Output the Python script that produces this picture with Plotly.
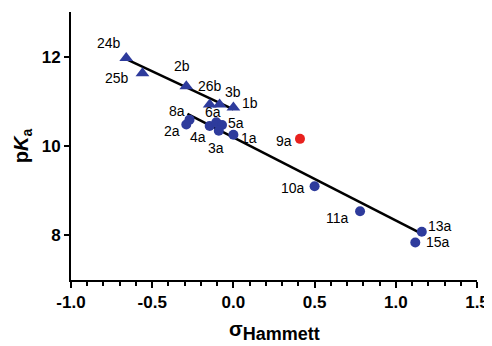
import plotly.graph_objects as go

# series b (triangles)
b_labels = ["24b", "25b", "2b", "26b", "3b", "1b"]
b_sigma = [-0.66, -0.56, -0.29, -0.146, -0.085, 0.0]
b_pka = [11.97, 11.63, 11.34, 10.93, 10.93, 10.86]

# series a (circles)
a_labels = ["8a", "2a", "4a", "6a", "5a", "3a", "1a", "10a", "11a", "13a", "15a"]
a_sigma = [-0.27, -0.29, -0.146, -0.105, -0.07, -0.09, 0.0, 0.50, 0.78, 1.16, 1.12]
a_pka = [10.59, 10.48, 10.45, 10.53, 10.47, 10.34, 10.25, 9.10, 8.54, 8.08, 7.84]

# outlier (red)
r_labels = ["9a"]
r_sigma = [0.41]
r_pka = [10.16]

# regression lines (endpoints)
fit_b_x = [-0.65, 0.0]
fit_b_y = [11.93, 10.82]
fit_a_x = [-0.283, 1.14]
fit_a_y = [10.72, 8.07]

x_ticks = [-1.0, -0.5, 0.0, 0.5, 1.0, 1.5]
y_ticks = [8, 10, 12]

blue = "#2E3B9C"
red = "#E8211E"
FONT = "Liberation Sans, Arial"

# label pixel offsets (style)
offsets = {
    "24b": (-17, 15), "25b": (-25, -5), "2b": (-4, 20), "26b": (0, 18),
    "3b": (13, 12), "1b": (17, 5),
    "8a": (-13, 9), "2a": (-14, -6), "4a": (-12, -11), "6a": (-3, 10),
    "5a": (14, 2), "3a": (-3, -17), "1a": (16, -3),
    "9a": (-16, -2), "10a": (-22, -2), "11a": (-23, -7), "13a": (18, 6), "15a": (23, 0),
}

fig = go.Figure()
fig.add_trace(go.Scatter(x=fit_b_x, y=fit_b_y, mode="lines",
                         line=dict(color="black", width=2.5), showlegend=False))
fig.add_trace(go.Scatter(x=fit_a_x, y=fit_a_y, mode="lines",
                         line=dict(color="black", width=2.5), showlegend=False))
fig.add_trace(go.Scatter(x=b_sigma, y=b_pka, mode="markers",
                         marker=dict(symbol="triangle-up", size=12, color=blue),
                         showlegend=False))
fig.add_trace(go.Scatter(x=a_sigma, y=a_pka, mode="markers",
                         marker=dict(symbol="circle", size=10, color=blue),
                         showlegend=False))
fig.add_trace(go.Scatter(x=r_sigma, y=r_pka, mode="markers",
                         marker=dict(symbol="circle", size=10, color=red),
                         showlegend=False))

for labs, xs, ys in [(b_labels, b_sigma, b_pka), (a_labels, a_sigma, a_pka),
                     (r_labels, r_sigma, r_pka)]:
    for lab, x, y in zip(labs, xs, ys):
        dx, dy = offsets[lab]
        fig.add_annotation(x=x, y=y, text=lab, showarrow=False,
                           xshift=dx, yshift=dy,
                           font=dict(family=FONT, size=14, color="black"))

# axis titles as paper annotations
fig.add_annotation(xref="paper", yref="paper", x=0.50, y=-0.19, yanchor="middle",
                   xanchor="center", showarrow=False,
                   text="<b><span style='font-size:20px'>σ</span><sub><span style='font-size:18px'>Hammett</span></sub></b>",
                   font=dict(family=FONT, size=20, color="black"))
fig.add_annotation(xref="paper", yref="paper", x=-0.12, y=0.5, xanchor="center",
                   yanchor="middle", showarrow=False, textangle=-90,
                   text="<b>p<i>K</i><sub>a</sub></b>",
                   font=dict(family=FONT, size=20, color="black"))

# page body has an 8px margin: shrink figure so plot area lands at the right pixels
fig.update_layout(
    width=484, height=338,
    margin=dict(l=63, r=15, t=4, b=66),
    plot_bgcolor="white", paper_bgcolor="white",
    font=dict(family=FONT, color="black"),
)
fig.update_xaxes(
    range=[-1.0, 1.5], tickvals=x_ticks,
    ticktext=[f"{v:.1f}" for v in x_ticks],
    showgrid=False, zeroline=False, automargin=False,
    showline=True, linecolor="black", linewidth=2,
    ticks="outside", ticklen=6, tickwidth=2, tickcolor="black",
    minor=dict(dtick=0.1, ticks="outside", ticklen=4, tickwidth=1.5, tickcolor="black"),
    tickfont=dict(size=17, family=FONT, color="black", weight="bold"),
)
fig.update_yaxes(
    range=[7, 13], tickvals=y_ticks,
    showgrid=False, zeroline=False, automargin=False,
    showline=True, linecolor="black", linewidth=2,
    ticks="outside", ticklen=5, tickwidth=2, tickcolor="black",
    tickfont=dict(size=17, family=FONT, color="black", weight="bold"),
)

fig.write_html("out.html")
